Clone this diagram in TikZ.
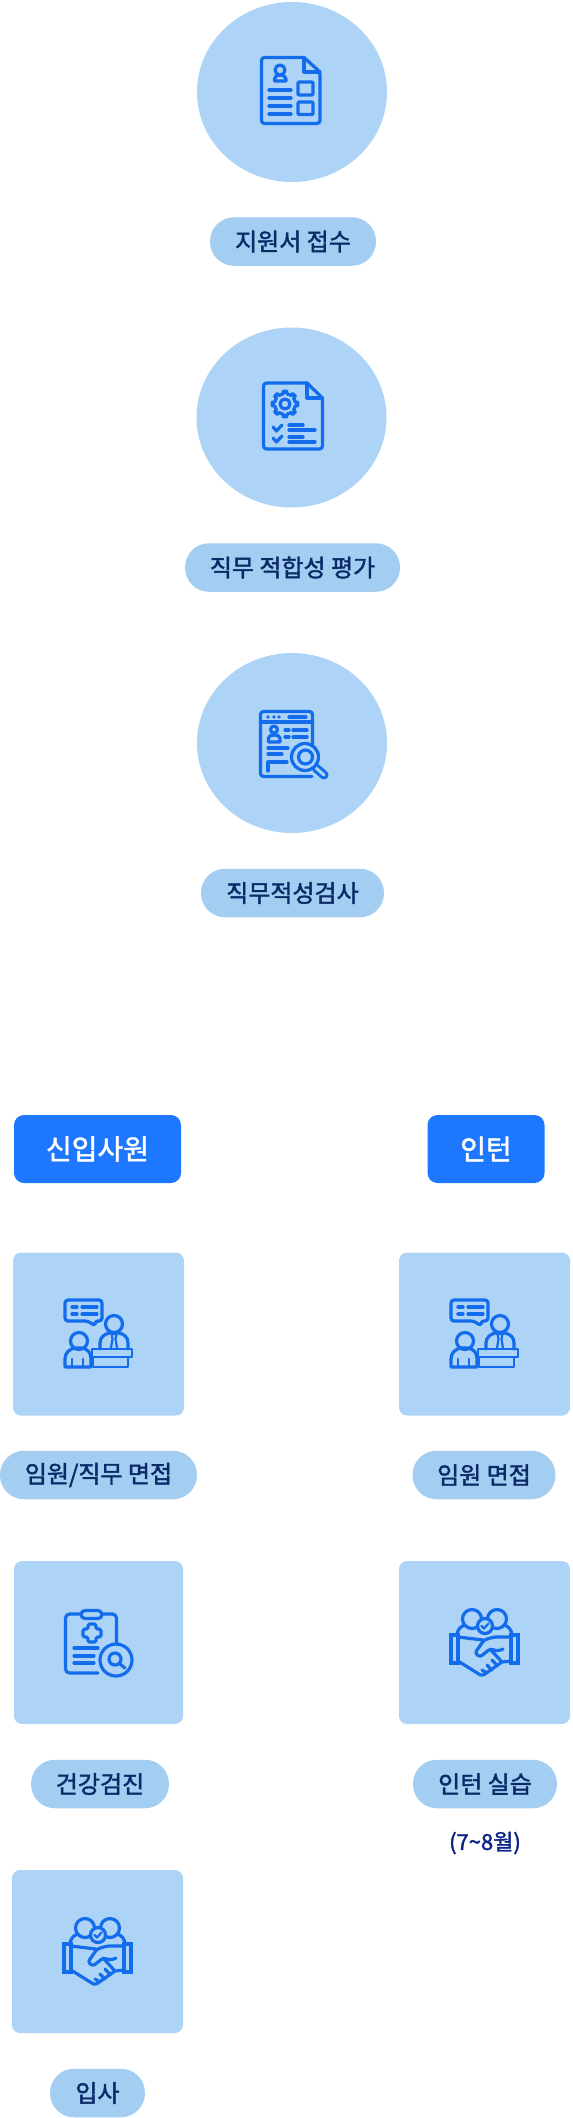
\documentclass[tikz,border=0pt]{standalone}
\usepackage{fontspec}
\setmainfont{Noto Sans CJK KR}
\newfontfamily\labelfont{Noto Sans CJK KR}[FakeBold=1.7]
\usepackage{xcolor}
\usetikzlibrary{positioning, shapes.geometric}
\definecolor{stepblue}{HTML}{ADD4F6}
\definecolor{pillblue}{HTML}{A3CEF2}
\definecolor{headblue}{HTML}{1E78FF}
\definecolor{iconblue}{HTML}{126CEB}
\definecolor{inkblue}{HTML}{0B2A68}
\tikzset{
  iconline/.style={draw=iconblue, line width=3.2pt, line cap=round, line join=round},
  talkicon/.pic={
    \draw[iconline, rounded corners=3pt] (1,1) -- (38,1) -- (38,22) -- (31,22) -- (31,27) -- (24,22) -- (1,22) -- cycle;
    \draw[iconline] (8,8) -- (13,8) (18,8) -- (33,8) (8,15) -- (13,15) (18,15) -- (33,15);
    \draw[iconline] (50,25) circle[radius=8.5];
    \draw[iconline] (36,50) -- (36,44) .. controls (36,38) and (41,35) .. (45,34) -- (55,34) .. controls (60,35) and (64,38) .. (64,44) -- (64,50);
    \draw[iconline, line width=2.2pt] (47.5,35) -- (52.5,35) -- (51.5,40) -- (53,49) (47.5,35) -- (48.5,40) -- (47,49);
    \draw[iconline, line width=2.8pt] (28,50) rectangle (68,58);
    \draw[iconline, line width=2.8pt] (29,58) rectangle (64,68);
    \draw[iconline] (15,42) circle[radius=8.5];
    \draw[iconline] (1,68) -- (1,60) .. controls (1,54) and (5,50) .. (11,49) -- (18,49) .. controls (24,50) and (27,54) .. (27,60) -- (27,68) -- cycle;
    \draw[iconline, line width=2.8pt] (8,60) -- (8,68) (19,60) -- (19,68);
  },
  shakeicon/.pic={
    \draw[iconline, line join=miter] (1,26) rectangle (8,54);
    \draw[iconline, line join=miter] (61,26) rectangle (68,54);
    \draw[iconline] (22,10) circle[radius=9.5];
    \draw[iconline] (47,10) circle[radius=9.5];
    \draw[iconline] (7,25) .. controls (8,20) and (11,17) .. (15,16);
    \draw[iconline] (62,25) .. controls (61,20) and (58,17) .. (54,16);
    \draw[iconline, fill=stepblue] (35,17) circle[radius=7.5];
    \draw[iconline, line width=2.2pt] (31.5,17) -- (34,19.5) -- (38.5,14.5);
    \draw[iconline] (8,28) -- (33,31);
    \draw[iconline, rounded corners=2.5pt] (61,28) -- (44,28) -- (34,31) -- (25,44) -- (30,48) -- (40,40) -- (48,42) -- (53,40);
    \draw[iconline, rounded corners=2pt] (8,52) -- (32,67) -- (52,53) -- (40,40);
    \draw[iconline] (52,53) -- (61,52);
    \draw[iconline] (32,61) -- (37,64) (37,56) -- (42,61) (42,51) -- (47,56);
  }
}
\begin{document}
\begin{tikzpicture}[
    x=1pt, y=-1pt,
    every node/.style={inner sep=0pt, outer sep=0pt, text=inkblue},
    phasecircle/.style={ellipse, fill=stepblue, minimum width=190pt, minimum height=180pt},
    labelpill/.style={fill=pillblue, rounded corners=24pt, minimum height=48.5pt, font=\labelfont\fontsize{24}{28}\selectfont},
    headerbox/.style={fill=headblue, rounded corners=10pt, minimum height=68pt, text=white, font=\labelfont\fontsize{28}{33}\selectfont},
    phasebox/.style={fill=stepblue, rounded corners=8pt, minimum height=163pt},
  ]
  \useasboundingbox (0,0) rectangle (573,2118);

  \node[phasecircle] (circA) at (292,92) {};
  \node[labelpill, minimum width=166pt] (pillA) at (293,241.5) {지원서 접수};
  \node[phasecircle] (circB) at (291.5,417.5) {};
  \node[labelpill, minimum width=215pt] (pillB) at (292.5,567.5) {직무 적합성 평가};
  \node[phasecircle] (circC) at (292,743) {};
  \node[labelpill, minimum width=183pt] (pillC) at (292.5,893) {직무적성검사};

  \node[headerbox, minimum width=167pt] (headA) at (97.5,1149) {신입사원};
  \node[headerbox, minimum width=117pt] (headB) at (486,1149) {인턴};

  \node[phasebox, minimum width=171pt] (boxA) at (98.5,1334) {};
  \node[labelpill, minimum width=197pt] (pillD) at (98.5,1475) {임원/직무 면접};
  \node[phasebox, minimum width=171pt] (boxB) at (484.5,1334) {};
  \node[labelpill, minimum width=143pt] (pillE) at (484,1475) {임원 면접};
  \node[phasebox, minimum width=169pt] (boxC) at (98.5,1642.5) {};
  \node[labelpill, minimum width=138pt] (pillF) at (100,1784) {건강검진};
  \node[phasebox, minimum width=171pt] (boxD) at (484.5,1642.5) {};
  \node[labelpill, minimum width=144pt] (pillG) at (485,1784) {인턴 실습};
  \node[font=\labelfont\fontsize{22}{26}\selectfont, text=inkblue!80!blue] (months) at (485,1843) {(7\textasciitilde8월)};
  \node[phasebox, minimum width=171pt] (boxE) at (97.5,1951.5) {};
  \node[labelpill, minimum width=95pt] (pillH) at (97.5,2093) {입사};

  % first icon
  \draw[iconline, rounded corners=3pt] (304,57.5) -- (261.5,57.5) -- (261.5,123.5) -- (320,123.5) -- (320,72) -- (304,57.5);
  \draw[iconline] (304,57.5) -- (304,72) -- (320,72);
  \draw[iconline] (280,70) circle[radius=5];
  \draw[iconline] (274.5,81) -- (274.5,79) .. controls (274.5,76) and (277,75) .. (280,75) .. controls (283,75) and (286,76) .. (286,79) -- (286,81) -- cycle;
  \draw[iconline] (269,90) -- (291,90) (269,98) -- (291,98) (269,106) -- (291,106) (269,114) -- (291,114);
  \draw[iconline, rounded corners=1pt] (298,82) rectangle (313,95);
  \draw[iconline, rounded corners=1pt] (298,102) rectangle (313,114.5);

  % second icon
  \draw[iconline, rounded corners=3pt] (307,383) -- (263.5,383) -- (263.5,449) -- (322.5,449) -- (322.5,398) -- (307,383);
  \draw[iconline] (307,383) -- (307,398) -- (322.5,398);
  \begin{scope}[shift={(285,404)}]
    \draw[iconline] (-12:10.5) \foreach \a in {0,45,...,315} { -- (\a-10:10.5) -- (\a-8:13) -- (\a+8:13) -- (\a+10:10.5)} -- cycle;
    \draw[iconline] (0,0) circle[radius=5];
  \end{scope}
  \draw[iconline] (273,427) -- (276.5,431) -- (282,425) (273,438) -- (276.5,442) -- (282,436);
  \draw[iconline] (289,425) -- (303,425) (289,430) -- (315,430) (289,437) -- (303,437) (289,442) -- (315,442);

  % third icon
  \draw[iconline, rounded corners=3pt] (312.5,765) -- (312.5,711.5) -- (260.5,711.5) -- (260.5,776.5) -- (312,776.5);
  \draw[iconline] (260.5,722) -- (312.5,722);
  \fill[iconblue] (268,717) circle[radius=1.8] (274,717) circle[radius=1.8] (279,717) circle[radius=1.8];
  \draw[iconline] (289,717) -- (306,717);
  \draw[iconline] (274,729.5) circle[radius=3.5];
  \draw[iconline] (268.5,742) -- (268.5,738) .. controls (268.5,736) and (271,735) .. (274,735) .. controls (277,735) and (280,736) .. (280,738) -- (280,742) -- cycle;
  \draw[iconline] (285,730) -- (289,730) (293,730) -- (307,730) (285,737) -- (289,737) (293,737) -- (307,737);
  \draw[iconline] (268,748) -- (288,748) (268,754) -- (282,754) (287,762) -- (268,762) -- (268,771);
  \draw[iconblue, line width=9pt, line cap=round] (316,768) -- (324,775);
  \draw[stepblue, line width=3pt, line cap=round] (316,768) -- (324,775);
  \draw[iconline, fill=stepblue] (305,757) circle[radius=13.5];
  \draw[iconline] (305.5,757) circle[radius=7];

  \pic (talkA) at (64,1299) {talkicon};
  \pic (talkB) at (450,1299) {talkicon};

  % clipboard icon
  \draw[iconline, rounded corners=4pt] (80,1614) -- (65.5,1614) -- (65.5,1673) -- (98,1673);
  \draw[iconline, rounded corners=4pt] (102,1614) -- (116.5,1614) -- (116.5,1644);
  \draw[iconline, rounded corners=4pt] (81,1610.5) rectangle (102,1618.5);
  \draw[iconline, rounded corners=1.5pt] (88,1624) -- (96,1624) -- (96,1629) -- (101,1629) -- (101,1637) -- (96,1637) -- (96,1642) -- (88,1642) -- (88,1637) -- (83,1637) -- (83,1629) -- (88,1629) -- cycle;
  \draw[iconline] (74,1648) -- (98,1648) (74,1656) -- (94,1656) (74,1663) -- (94,1663);
  \draw[iconline] (116,1660) circle[radius=16];
  \draw[iconline] (115,1659) circle[radius=6] (120,1664) -- (125,1668);

  \pic (shakeA) at (450,1609) {shakeicon};
  \pic (shakeB) at (63,1918) {shakeicon};
\end{tikzpicture}
\end{document}
